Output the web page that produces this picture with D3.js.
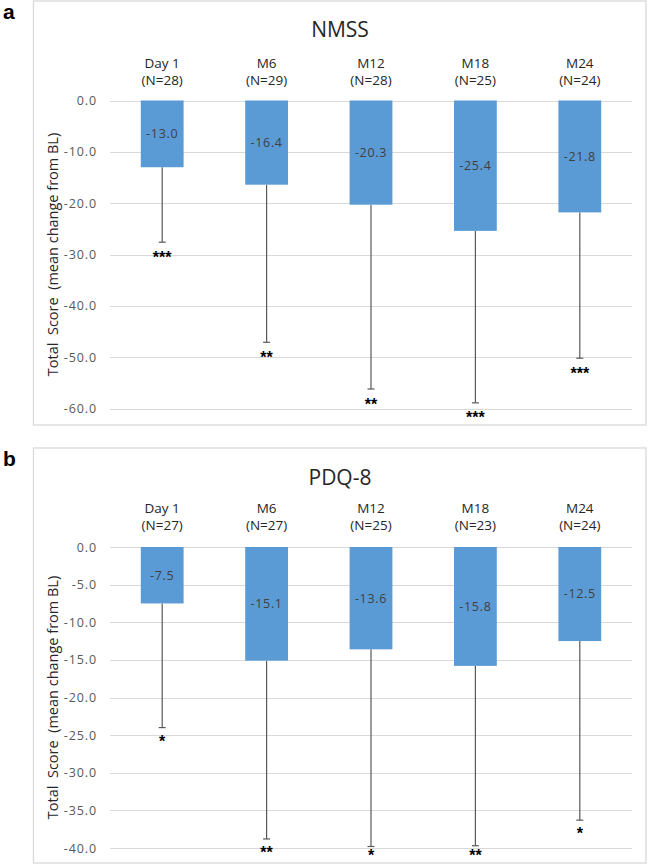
<!DOCTYPE html>
<html>
<head>
<meta charset="utf-8">
<script src="https://cdn.jsdelivr.net/npm/d3@7"></script>
<style>
  html, body { margin: 0; padding: 0; background: #fff; }
  svg { display: block; }
</style>
</head>
<body>
<svg id="chart" width="648" height="865"></svg>
<script>
// ---- Data ----
const categories = ["Day 1", "M6", "M12", "M18", "M24"];

const nmssTitle = "NMSS";
const nmssN = [28, 29, 28, 25, 24];
const nmssMean = [-13.0, -16.4, -20.3, -25.4, -21.8];
const nmssLower = [-27.6, -47.1, -56.2, -58.9, -50.2];
const nmssStars = ["***", "**", "**", "***", "***"];
const nmssTicks = [0, -10, -20, -30, -40, -50, -60];

const pdqTitle = "PDQ-8";
const pdqN = [27, 27, 25, 23, 24];
const pdqMean = [-7.5, -15.1, -13.6, -15.8, -12.5];
const pdqLower = [-24.0, -38.8, -39.8, -39.7, -36.3];
const pdqStars = ["*", "**", "*", "**", "*"];
const pdqTicks = [0, -5, -10, -15, -20, -25, -30, -35, -40];

const yTitle = "Total  Score  (mean change from BL)";

const svg = d3.select("#chart");
const FONT = "'Open Sans', 'Noto Sans', sans-serif";
const fmt = d => d3.format(".1f")(d).replace("\u2212", "-");

function panel(opts) {
  const g = svg.append("g");
  const { letter, letterY, frameTop, frameBottom, titleY, catY, y0, y1,
          title, ns, means, lowers, stars, ticks, starOffset } = opts;

  // Frame
  g.append("rect")
    .attr("x", 33.5).attr("y", frameTop)
    .attr("width", 612.5).attr("height", frameBottom - frameTop)
    .attr("fill", "#fff").attr("stroke", "#d9d9d9").attr("stroke-width", 1.3);

  // Panel letter
  g.append("text").attr("x", 3).attr("y", letterY)
    .attr("font-family", "'Liberation Sans', Arial, sans-serif")
    .attr("font-weight", "bold").attr("font-size", 21)
    .attr("fill", "#000").text(letter);

  const x = d3.scaleBand().domain(categories).range([110, 632])
    .paddingInner(0.59).paddingOuter(0.295);
  const y = d3.scaleLinear().domain([ticks[ticks.length - 1], 0]).range([y1, y0]);
  const cx = d => x(d) + x.bandwidth() / 2;

  // Gridlines
  g.append("g").selectAll("line").data(ticks).join("line")
    .attr("x1", 110).attr("x2", 632)
    .attr("y1", d => Math.round(y(d)) + 0.5).attr("y2", d => Math.round(y(d)) + 0.5)
    .attr("stroke", "#d9d9d9").attr("stroke-width", 1);

  // Y axis tick labels
  const yAxis = d3.axisLeft(y).tickValues(ticks).tickSize(0).tickPadding(0)
    .tickFormat(fmt);
  const ya = g.append("g").attr("transform", "translate(97,0)").call(yAxis);
  ya.select(".domain").remove();
  ya.selectAll("text").attr("font-family", FONT).attr("font-size", 12.5)
    .attr("letter-spacing", "0.9px")
    .attr("fill", "#595959");

  // Title
  g.append("text").attr("x", 340).attr("y", titleY)
    .attr("text-anchor", "middle").attr("font-family", FONT)
    .attr("font-size", 21).attr("fill", "#262626").text(title);

  // Category labels
  const cat = g.append("g").selectAll("text").data(categories).join("text")
    .attr("text-anchor", "middle").attr("font-family", FONT)
    .attr("font-size", 13.5).attr("fill", "#262626");
  cat.append("tspan").attr("x", cx).attr("y", catY).text(d => d);
  cat.append("tspan").attr("x", cx).attr("y", catY + 17)
    .text((d, i) => "(N=" + ns[i] + ")");

  // Error bars
  const eb = g.append("g").attr("stroke", "#595959").attr("stroke-width", 1.2);
  eb.selectAll("line.v").data(categories).join("line").attr("class", "v")
    .attr("x1", cx).attr("x2", cx)
    .attr("y1", (d, i) => y(means[i])).attr("y2", (d, i) => y(lowers[i]));
  eb.selectAll("line.c").data(categories).join("line").attr("class", "c")
    .attr("x1", d => cx(d) - 3.5).attr("x2", d => cx(d) + 3.5)
    .attr("y1", (d, i) => y(lowers[i])).attr("y2", (d, i) => y(lowers[i]));

  // Bars
  g.append("g").selectAll("rect").data(categories).join("rect")
    .attr("x", d => x(d)).attr("width", x.bandwidth())
    .attr("y", y(0)).attr("height", (d, i) => y(means[i]) - y(0))
    .attr("fill", "#5b9bd5");

  // Bar value labels
  g.append("g").selectAll("text").data(categories).join("text")
    .attr("x", cx)
    .attr("y", (d, i) => (y(0) + y(means[i])) / 2)
    .attr("dy", "0.35em")
    .attr("text-anchor", "middle").attr("font-family", FONT)
    .attr("font-size", 12.5).attr("letter-spacing", "0.7px").attr("fill", "#404040")
    .text((d, i) => fmt(means[i]));

  // Significance stars (kept inside the frame)
  g.append("g").selectAll("text").data(categories).join("text")
    .attr("x", cx)
    .attr("y", (d, i) => Math.min(y(lowers[i]) + starOffset, frameBottom - 2.5))
    .attr("text-anchor", "middle")
    .attr("font-family", "'Liberation Sans', Arial, sans-serif")
    .attr("font-weight", "bold").attr("font-size", 16).attr("fill", "#000")
    .text((d, i) => stars[i]);

  // Y title
  g.append("text")
    .attr("transform", `translate(58,${(y0 + y1) / 2}) rotate(-90)`)
    .attr("text-anchor", "middle").attr("font-family", FONT)
    .attr("font-size", 14.5).attr("fill", "#262626")
    .style("white-space", "pre")
    .text(yTitle);
}

panel({
  letter: "a", letterY: 19, frameTop: 1, frameBottom: 425,
  titleY: 37, catY: 67.5, y0: 100.5, y1: 408.5, starOffset: 21,
  title: nmssTitle, ns: nmssN, means: nmssMean, lowers: nmssLower,
  stars: nmssStars, ticks: nmssTicks
});

panel({
  letter: "b", letterY: 466, frameTop: 448, frameBottom: 863,
  titleY: 485, catY: 513, y0: 547, y1: 848, starOffset: 19,
  title: pdqTitle, ns: pdqN, means: pdqMean, lowers: pdqLower,
  stars: pdqStars, ticks: pdqTicks
});
</script>
</body>
</html>
